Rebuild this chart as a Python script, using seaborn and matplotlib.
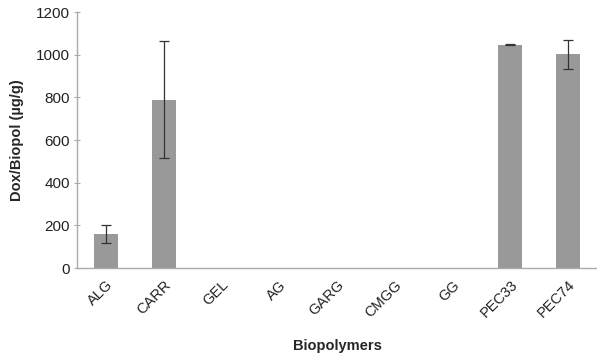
import matplotlib
matplotlib.use("Agg")
import matplotlib.pyplot as plt
import seaborn as sns
import pandas as pd
import numpy as np

categories = ["ALG", "CARR", "GEL", "AG", "GARG", "CMGG", "GG", "PEC33", "PEC74"]
values = [160, 790, 0, 0, 0, 0, 0, 1047, 1002]
errors = [42, 275, 0, 0, 0, 0, 0, 3, 68]
yticks = [0, 200, 400, 600, 800, 1000, 1200]

sns.set_theme(style="white")
plt.rcParams['font.family'] = ['Liberation Sans', 'DejaVu Sans']

df = pd.DataFrame({"cat": categories, "val": values})

fig = plt.figure(figsize=(5.97, 3.58), dpi=100)
ax = fig.add_axes([0.129, 0.251, 0.871, 0.715])
sns.barplot(data=df, x="cat", y="val", color="#999999", saturation=1,
            width=0.41, ax=ax, errorbar=None, linewidth=0)
xs = np.arange(len(categories))
mask = np.array(errors) > 0
ax.errorbar(xs[mask], np.array(values)[mask], yerr=np.array(errors)[mask],
            fmt="none", ecolor="#333333", elinewidth=0.9, capsize=3.5, capthick=0.9)
ax.set_xlim(-0.5, 8.5)
ax.set_ylim(0, 1200)
ax.set_yticks(yticks)
ax.set_yticklabels([str(t) for t in yticks], fontsize=11, color="#222222")
ax.set_xticks(xs)
ax.set_xticklabels(categories, rotation=45, ha="right", rotation_mode="anchor",
                   fontsize=10.5, color="#222222")
ax.tick_params(axis="y", direction="inout", length=4, width=0.8, color="#aaaaaa", left=True, pad=3)
ax.tick_params(axis="x", length=0, pad=7)
for s in ["top", "right"]:
    ax.spines[s].set_visible(False)
for s in ["left", "bottom"]:
    ax.spines[s].set_color("#aaaaaa")
    ax.spines[s].set_linewidth(1.0)
ax.set_xlabel("Biopolymers", fontsize=10.5, fontweight="bold", labelpad=13)
ax.set_ylabel("Dox/Biopol (µg/g)", fontsize=10.5, fontweight="bold", labelpad=9)
fig.savefig("out.png", dpi=100)
